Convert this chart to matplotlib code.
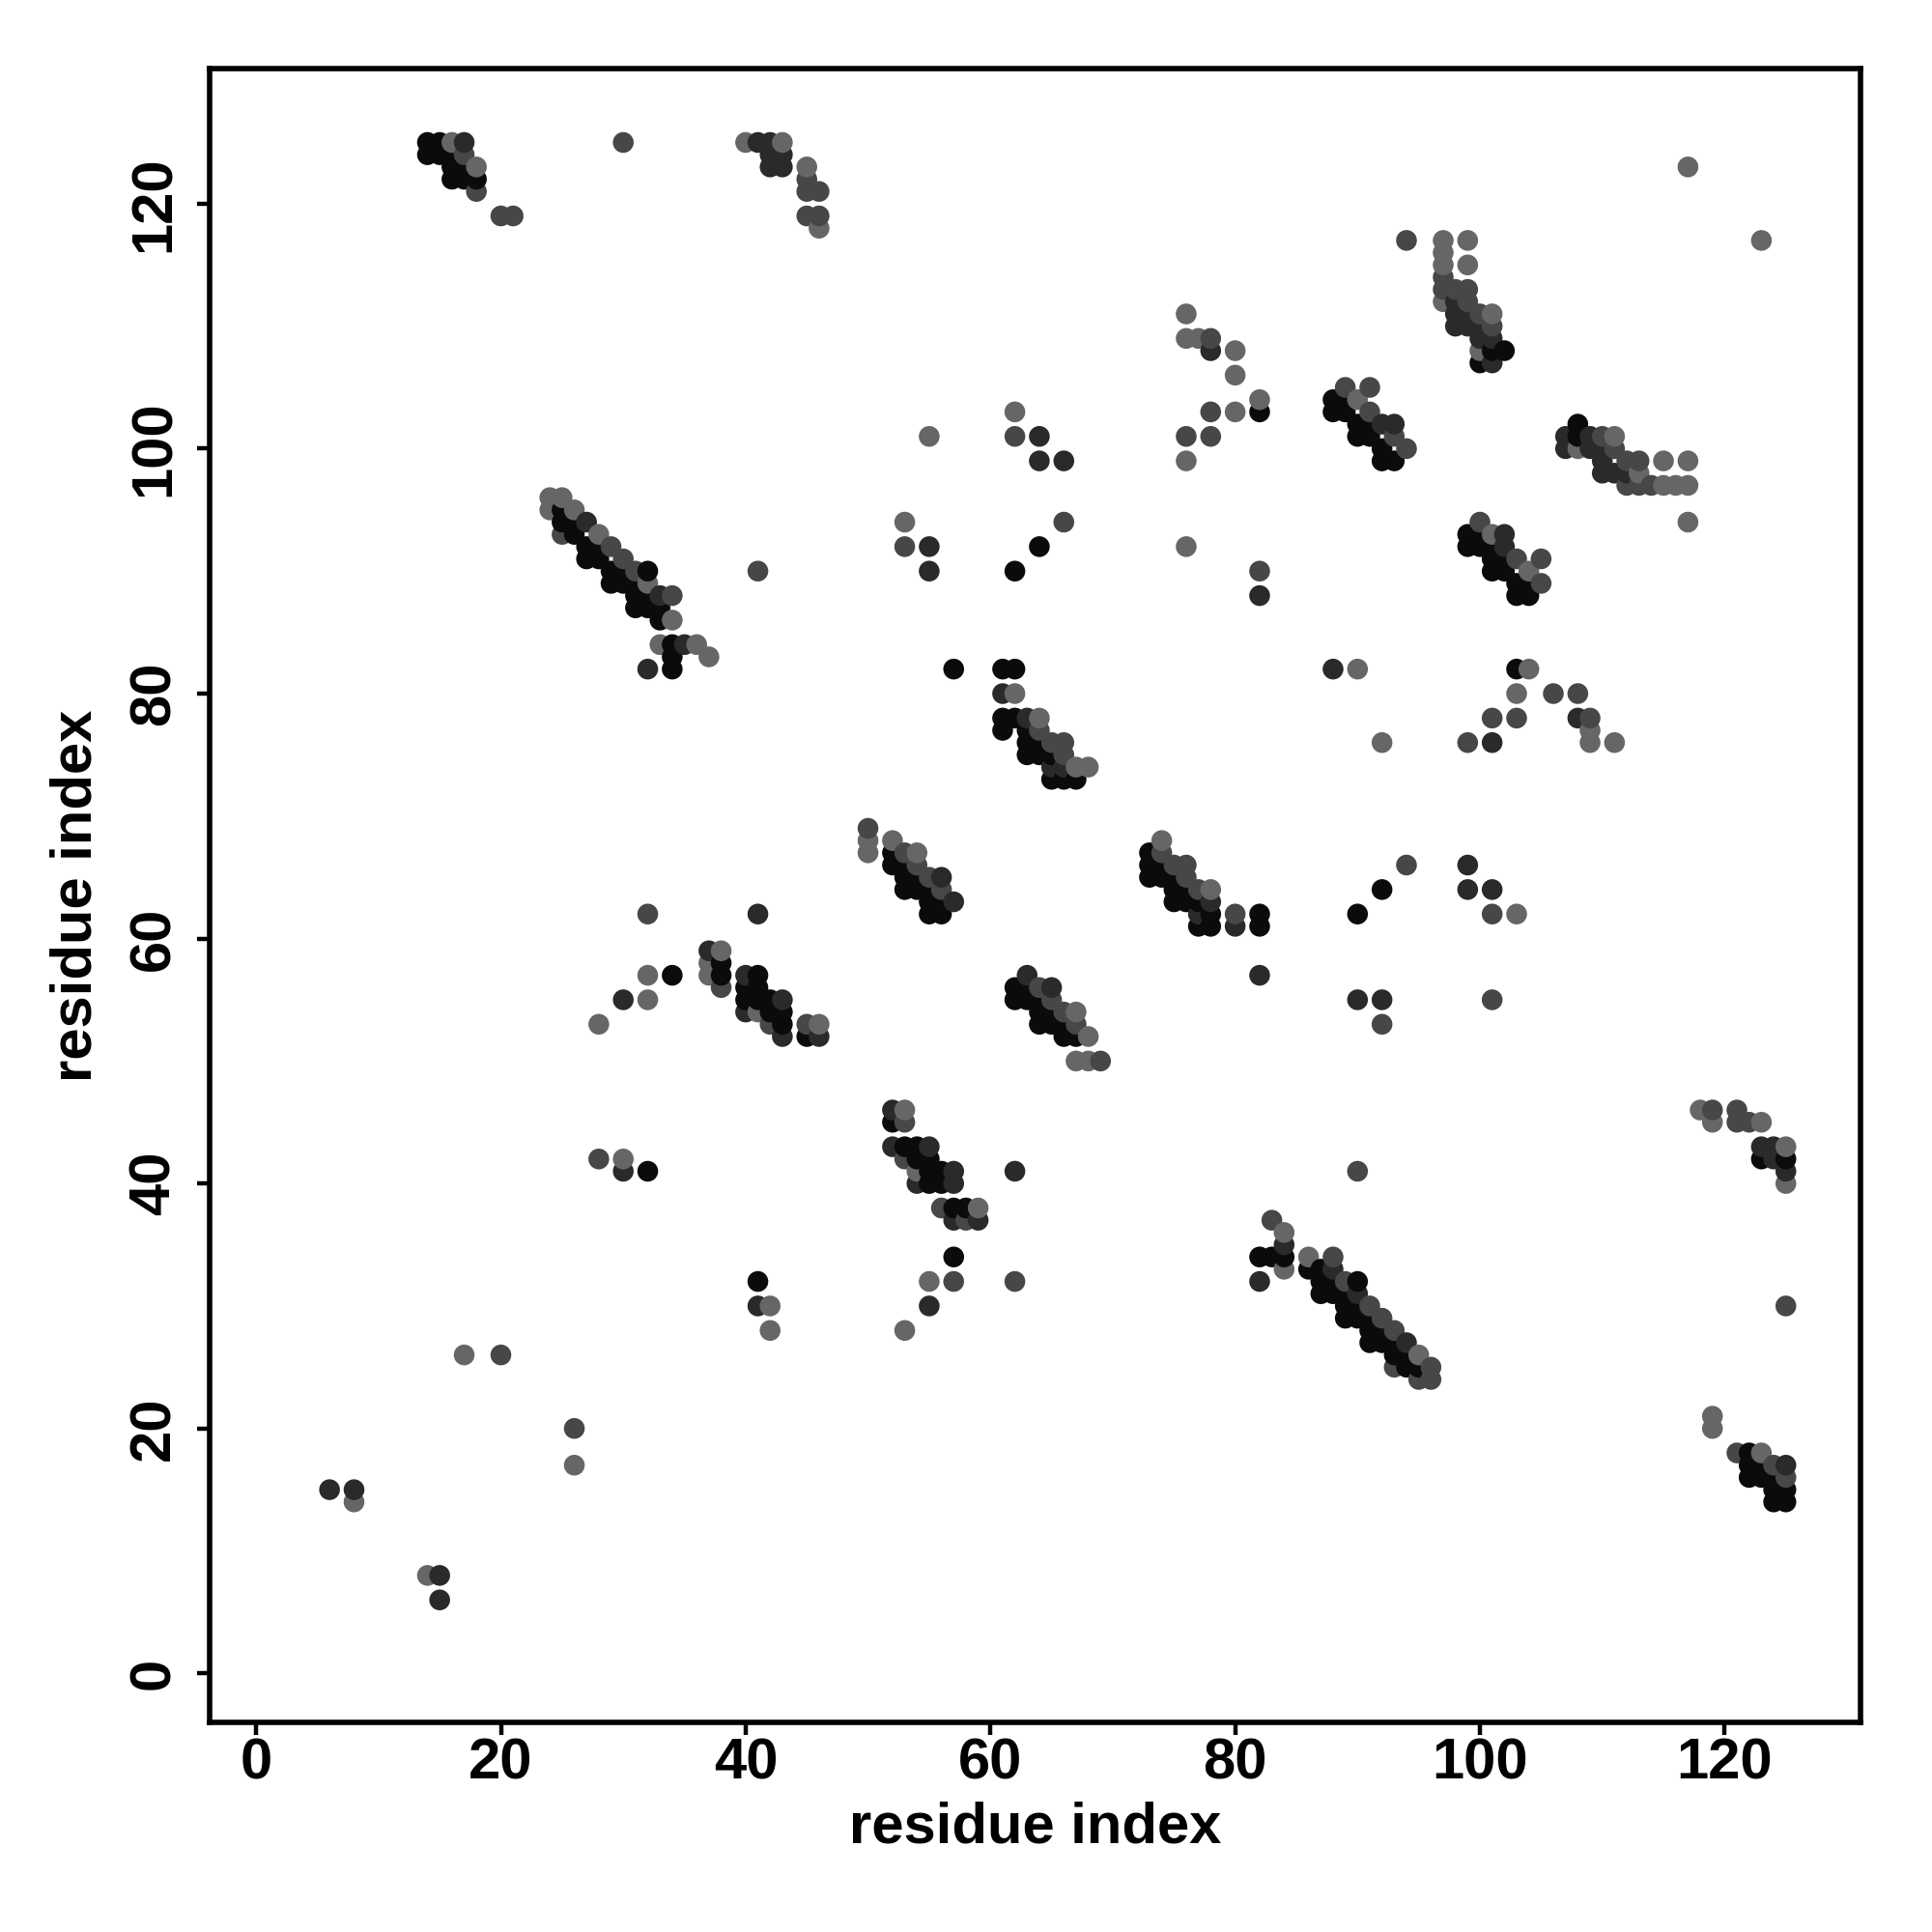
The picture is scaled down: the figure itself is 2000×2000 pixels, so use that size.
import numpy as np
import matplotlib
matplotlib.use('Agg')
import matplotlib.pyplot as plt

plt.rcParams['font.family'] = ['Liberation Sans', 'DejaVu Sans']
plt.rcParams['font.weight'] = 'bold'

# contacts (i, j) grouped by grey shade
black_pts = [
    (14,125),(15,125),(14,124),(15,124),(16,124),(16,123),(17,123),(16,122),(17,122),(18,122),
    (25,95),(25,94),(26,94),(26,93),(27,92),(28,92),(27,91),(28,91),(29,90),(30,90),(32,90),
    (29,89),(30,89),(31,89),(31,88),(32,88),(31,87),(32,87),(33,87),(33,86),(34,84),(34,83),(34,82),
    (34,57),(32,41),
    (64,92),(62,90),(57,82),(61,82),(62,82),
    (82,103),(88,104),(88,103),(89,103),(89,104),(90,102),(91,102),(90,101),(91,101),(92,100),(92,99),(93,99),
    (101,108),(102,108),(100,107),(108,102),(108,101),
    (99,93),(100,93),(99,92),(100,92),(101,92),(101,91),(102,91),(101,90),(102,90),(103,89),(104,89),
    (103,88),(104,88),(103,82),
    (61,78),(62,78),(61,77),(63,77),(63,76),(64,76),(63,75),(64,75),(65,75),(65,73),(66,73),(67,73),
    (52,67),(52,66),(53,66),(53,65),(54,65),(53,64),(54,64),(55,64),(55,63),(56,63),(55,62),(56,62),
    (38,58),(38,57),(41,57),(40,56),(41,56),(40,55),(41,55),(42,55),(42,54),(43,54),(43,53),(45,52),
    (52,45),(53,43),(54,43),(54,42),(55,42),(55,41),(56,41),(55,40),(56,40),(57,38),(58,38),(57,34),(41,32),
    (62,56),(63,56),(62,55),(63,55),(64,55),(64,54),(65,54),(64,53),(65,53),(66,53),(66,52),(67,52),
    (73,67),(73,66),(74,66),(73,65),(74,65),(75,65),(75,64),(76,64),(75,63),(76,63),(77,63),
    (78,62),(82,62),(77,61),(78,61),(82,61),(92,64),(90,62),
    (123,42),(125,42),
    (82,34),(83,34),(84,34),(86,33),(87,33),(87,32),(88,32),(90,32),(87,31),(88,31),(89,31),
    (89,30),(90,30),(89,29),(90,29),(91,29),(91,28),(92,28),(91,27),(92,27),(93,27),(93,26),(94,26),
    (94,25),(95,25),
    (122,18),(122,17),(123,17),(122,16),(123,16),(124,16),(124,15),(125,15),(124,14),(125,14),
]
dark_pts = [
    (17,125),(41,125),(42,125),(42,124),(43,124),(42,123),(43,123),
    (27,94),(33,88),(35,84),(32,82),(30,55),(30,41),(6,15),(8,15),(15,8),(15,6),
    (64,101),(64,99),(66,99),(55,92),(55,90),
    (78,108),(82,88),(88,82),(92,102),(93,102),
    (98,112),(98,111),(99,111),(98,110),(99,110),(100,110),(100,109),(101,109),(101,107),
    (107,101),(109,101),(107,100),(109,100),(110,100),(110,99),(110,98),(111,98),(112,98),
    (102,93),(102,92),
    (61,80),(63,78),(65,74),(66,74),(56,65),(57,63),(41,62),(37,59),(40,57),(43,55),(40,54),(43,52),
    (46,52),(52,46),(52,43),(55,43),(57,41),(54,40),(57,40),(62,41),(57,37),(59,37),(41,30),(55,30),
    (63,57),(65,56),(78,63),(77,62),(80,61),(82,57),(90,55),(92,55),
    (108,78),(101,76),(99,66),(99,64),(101,64),(123,43),(124,43),(124,42),(125,41),
    (84,35),(82,32),(88,33),(90,31),(94,27),(125,17),
]
mid_pts = [
    (17,124),(18,121),(20,119),(21,119),(30,125),
    (45,122),(45,121),(46,121),(45,119),(46,119),
    (25,93),(29,92),(30,91),(31,90),(34,88),
    (32,62),(28,42),(20,26),(26,20),
    (62,101),(53,92),(66,94),(41,90),
    (94,117),(97,114),(97,113),(78,109),(78,103),(76,101),(78,101),(82,90),
    (89,105),(91,105),(91,103),(93,101),(94,100),
    (98,113),(99,113),(99,112),(100,111),(101,110),
    (110,101),(111,100),(112,99),(113,99),(112,97),(113,97),(114,97),
    (100,94),(103,91),(105,91),(105,89),
    (64,77),(65,76),(66,76),(66,75),(50,69),(53,67),(54,66),(55,65),(56,64),
    (38,56),(42,53),(45,53),(53,45),(53,42),(56,38),(58,37),(57,32),(62,32),
    (64,56),(65,55),(66,54),(67,53),(69,50),
    (74,67),(75,66),(76,66),(76,65),(77,64),(80,62),(94,66),(92,53),(90,41),
    (106,80),(108,80),(101,78),(103,78),(109,78),(99,76),(101,62),(101,55),
    (119,46),(121,46),(121,45),(122,45),
    (83,37),(88,34),(89,32),(91,30),(92,29),(93,28),(93,25),(96,25),(95,24),(96,24),
    (125,30),(121,18),(124,17),(125,16),
]
grey_pts = [
    (16,125),(18,123),(40,125),(43,125),(45,123),(46,118),
    (24,96),(25,96),(24,95),(26,95),(28,93),(32,89),(34,86),(33,84),(36,84),(37,83),
    (32,57),(32,55),(28,53),(30,42),(17,26),(26,17),(8,14),(14,8),
    (55,101),(62,103),(53,94),
    (97,117),(97,116),(97,115),(97,112),(76,111),(76,109),(77,109),(80,108),(80,106),(82,104),
    (80,103),(76,99),(76,92),(90,82),(90,104),
    (117,123),(123,117),(99,117),(99,115),(101,111),(100,108),
    (111,101),(108,100),(115,99),(117,99),(113,98),(115,97),(116,97),(117,97),(117,94),
    (101,93),(104,90),(104,82),
    (62,80),(64,78),(67,74),(68,74),(50,68),(50,67),(52,68),(54,67),
    (38,59),(37,58),(37,57),(41,54),(46,53),(53,46),(54,41),(59,38),(55,32),(42,30),(42,28),(53,28),
    (67,54),(68,52),(67,50),(68,50),
    (92,76),(74,68),(78,64),
    (103,80),(109,77),(109,76),(111,76),(103,62),
    (118,46),(119,45),(123,45),(125,43),(125,40),
    (84,36),(84,33),(86,34),(95,26),
    (119,21),(119,20),(123,18),
]

shades = {'#0b0b0b': black_pts, '#2a2a2a': dark_pts, '#474747': mid_pts, '#666666': grey_pts}

xs, ys, cols = [], [], []
for c, pts in shades.items():
    for (i, j) in pts:
        xs.append(i)
        ys.append(j)
        cols.append(c)
xs = np.array(xs)
ys = np.array(ys)
cols = np.array(cols)
order = np.lexsort((ys, xs))

fig = plt.figure(figsize=(10, 10), dpi=200)
ax = fig.add_axes([0.1085, 0.1085, 0.8545, 0.8558])
ax.scatter(xs[order], ys[order], c=cols[order], s=60, linewidths=0)

ax.set_xlim(-3.8, 131.1)
ax.set_ylim(-4.0, 131.0)
ax.set_xticks(range(0, 121, 20))
ax.set_yticks(range(0, 121, 20))
for sp in ax.spines.values():
    sp.set_linewidth(2.0)
ax.tick_params(axis='both', direction='out', length=4.7, width=1.6, labelsize=21.5)
ax.tick_params(axis='x', pad=1)
ax.tick_params(axis='y', pad=6)
for lab in ax.get_yticklabels():
    lab.set_rotation(90)
    lab.set_va('center')

ax.set_xlabel('residue index', fontsize=21.5, fontweight='bold', va='center')
ax.set_ylabel('residue index', fontsize=21.5, fontweight='bold', va='center')
ax.xaxis.set_label_coords(0.5, -0.0637)
ax.yaxis.set_label_coords(-0.0807, 0.5)

fig.savefig('out.png', dpi=200, facecolor='white')
